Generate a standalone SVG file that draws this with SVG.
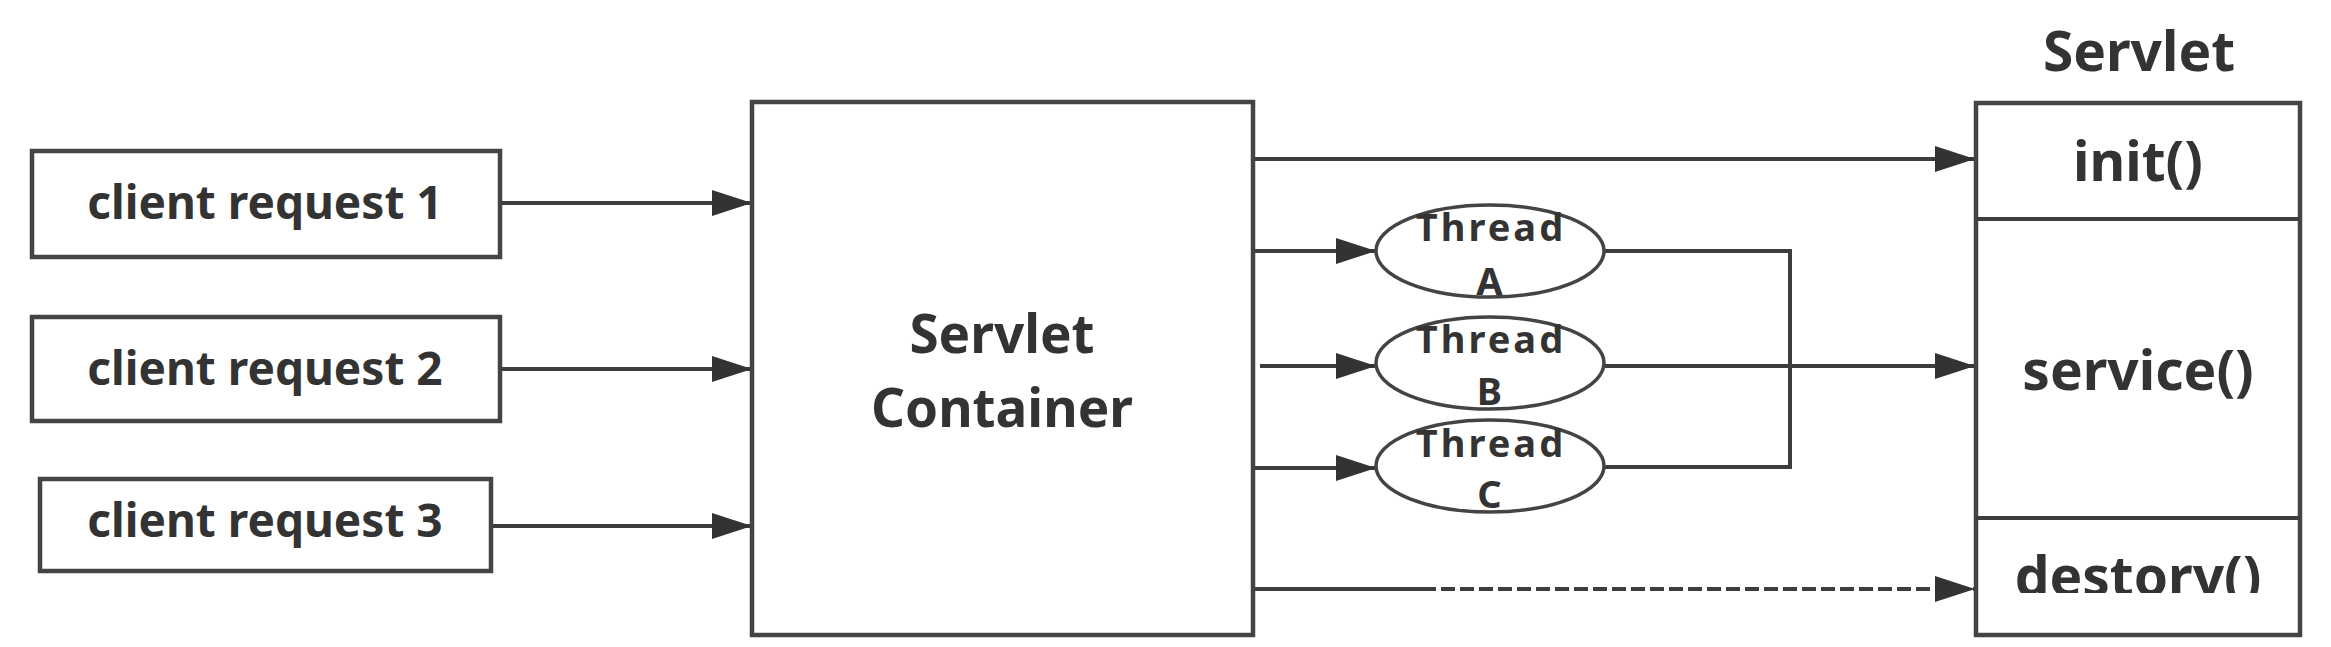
<svg xmlns="http://www.w3.org/2000/svg" width="2331" height="647" viewBox="0 0 2331 647">
<defs>
<style>
.box{fill:#fff;stroke:#444;stroke-width:4.5}
.ell{fill:#fff;stroke:#444;stroke-width:3.5}
.ln{fill:none;stroke:#3d3d3d;stroke-width:4}
.t{font-family:"Noto Sans","Liberation Sans",sans-serif;font-weight:bold;fill:#333;text-anchor:middle}
.cl{font-size:46px}
.big{font-size:55px}
.ctn{font-size:53px}
.th{font-size:38px;letter-spacing:3px}
</style>
<marker id="ah" markerUnits="userSpaceOnUse" markerWidth="40" markerHeight="26" refX="40" refY="13" orient="auto" viewBox="0 0 40 26">
<path d="M0,0 L40,13 L0,26 z" fill="#333"/>
</marker>
<clipPath id="wm"><rect x="1960" y="520" width="360" height="73"/></clipPath>
</defs>
<rect width="2331" height="647" fill="#fff"/>

<g id="connectors">
<line class="ln" x1="500" y1="203" x2="752" y2="203" marker-end="url(#ah)"/>
<line class="ln" x1="500" y1="369" x2="752" y2="369" marker-end="url(#ah)"/>
<line class="ln" x1="491" y1="526" x2="752" y2="526" marker-end="url(#ah)"/>
<line class="ln" x1="1253" y1="159" x2="1975" y2="159" marker-end="url(#ah)"/>
<line class="ln" x1="1253" y1="251" x2="1376" y2="251" marker-end="url(#ah)"/>
<line class="ln" x1="1260" y1="366" x2="1376" y2="366" marker-end="url(#ah)"/>
<line class="ln" x1="1253" y1="468" x2="1376" y2="468" marker-end="url(#ah)"/>
<polyline class="ln" points="1604,251 1790,251 1790,467 1604,467"/>
<line class="ln" x1="1604" y1="366" x2="1975" y2="366" marker-end="url(#ah)"/>
<line class="ln" x1="1253" y1="589" x2="1422" y2="589"/>
<line class="ln" x1="1422" y1="589" x2="1975" y2="589" stroke-dasharray="14 5" marker-end="url(#ah)"/>
</g>

<g id="client1"><rect class="box" x="32" y="151" width="468" height="106"/><text class="t cl" x="265" y="219">client request 1</text></g>
<g id="client2"><rect class="box" x="32" y="317" width="468" height="104"/><text class="t cl" x="265" y="385">client request 2</text></g>
<g id="client3"><rect class="box" x="40" y="479" width="451" height="92"/><text class="t cl" x="265" y="537">client request 3</text></g>

<g id="container"><rect class="box" x="752" y="102" width="501" height="533"/>
<text class="t ctn"><tspan x="1002" y="353">Servlet</tspan><tspan x="1002" y="426.5">Container</tspan></text></g>

<g id="threadA"><ellipse class="ell" cx="1490" cy="251" rx="114" ry="46"/><text class="t th" x="1491" y="241">Thread</text><text class="t th" x="1491" y="295">A</text></g>
<g id="threadB"><ellipse class="ell" cx="1490" cy="363" rx="114" ry="46"/><text class="t th" x="1491" y="353">Thread</text><text class="t th" x="1491" y="405">B</text></g>
<g id="threadC"><ellipse class="ell" cx="1490" cy="466" rx="114" ry="46"/><text class="t th" x="1491" y="457">Thread</text><text class="t th" x="1491" y="508">C</text></g>

<g id="servlet">
<text class="t big" x="2139" y="71">Servlet</text>
<rect class="box" x="1976" y="103" width="324" height="532"/>
<line class="ln" x1="1976" y1="219" x2="2300" y2="219"/>
<line class="ln" x1="1976" y1="518" x2="2300" y2="518"/>
<text class="t big" x="2138" y="181">init()</text>
<text class="t big" x="2138" y="390">service()</text>
<text class="t big" x="2138" y="596" clip-path="url(#wm)">destory()</text>
</g>
</svg>
